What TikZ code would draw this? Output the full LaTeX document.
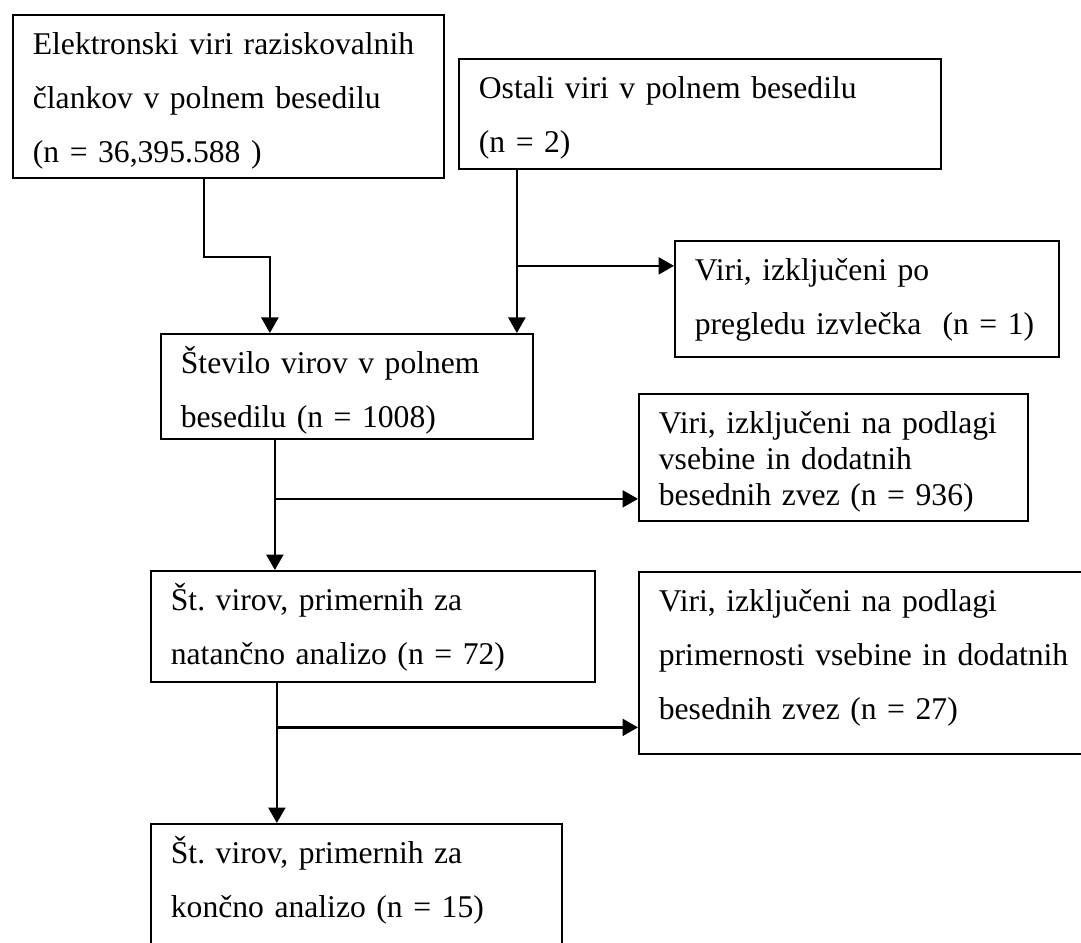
\documentclass[tikz,border=0pt]{standalone}
\usepackage{fontspec}
\setmainfont{Liberation Serif}
\usetikzlibrary{arrows.meta}

\begin{document}
\begin{tikzpicture}[
        >=Stealth,
        flow_box/.style={
            rectangle,
            draw=black,
            line width=1pt,
            anchor=north west,
            inner xsep=0.4cm,
            inner ysep=0pt,
            text height=0.8cm,
            align=left,
            font=\frenchspacing\fontsize{18}{30.7}\selectfont
        },
        tight_box/.style={
            flow_box,
            font=\frenchspacing\fontsize{18}{20.5}\selectfont
        },
        flow_arrow/.style={-{Triangle[width=0.34cm,length=0.31cm]}, line width=1.4pt, black}
    ]

    % Page frame (right and bottom boxes run off the page)
    \useasboundingbox (0,0) rectangle (21.62,-18.86);
    \clip (0,0) rectangle (21.62,-18.86);

    % =================================================
    % SOURCES
    % =================================================
    \node[flow_box, text width=7.82cm, text depth=2.46cm] (boxA) at (0.24,-0.28)
        {Elektronski viri raziskovalnih\\ člankov v polnem besedilu\\ (n = 36,395.588 )};
    \node[flow_box, text width=8.84cm, text depth=1.40cm] (boxB) at (9.16,-1.16)
        {Ostali viri v polnem besedilu\\ (n = 2)};

    % =================================================
    % SCREENING STEPS
    % =================================================
    \node[flow_box, text width=6.64cm, text depth=1.30cm] (boxC) at (3.20,-6.66)
        {Število virov v polnem\\ besedilu (n = 1008)};
    \node[flow_box, text width=8.08cm, text depth=1.42cm] (boxF) at (3.00,-11.40)
        {Št. virov, primernih za\\ natančno analizo (n = 72)};
    \node[flow_box, text width=7.42cm, text depth=4.00cm] (boxH) at (3.00,-16.46)
        {Št. virov, primernih za\\ končno analizo (n = 15)};

    % Excluded sources
    \node[flow_box, text width=6.88cm, text depth=1.52cm] (boxD) at (13.48,-4.80)
        {Viri, izključeni po\\ pregledu izvlečka~ (n = 1)};
    \node[tight_box, text width=6.98cm, text depth=1.74cm] (boxE) at (12.76,-7.86)
        {Viri, izključeni na podlagi\\ vsebine in dodatnih\\ besednih zvez (n = 936)};
    \node[flow_box, text width=8.44cm, text depth=2.84cm] (boxG) at (12.76,-11.42)
        {Viri, izključeni na podlagi\\ primernosti vsebine in dodatnih\\ besednih zvez (n = 27)};

    % =================================================
    % CONNECTORS
    % =================================================
    \coordinate (outA) at ([xshift=-0.49cm]boxA.south);
    \coordinate (inCa) at ([xshift=-1.54cm]boxC.north);
    \draw[flow_arrow] (outA) -- ++(0,-1.56) -| (inCa);

    \coordinate (outB) at ([xshift=-3.66cm]boxB.south);
    \coordinate (inD) at ([yshift=0.66cm]boxD.west);
    \draw[flow_arrow] (outB) -- (outB |- boxC.north);
    \draw[flow_arrow] (outB |- inD) -- (inD);

    \coordinate (outC) at ([xshift=-1.44cm]boxC.south);
    \coordinate (inE) at ([yshift=-0.83cm]boxE.west);
    \draw[flow_arrow] (outC) -- (outC |- boxF.north);
    \draw[flow_arrow] (outC |- inE) -- (inE);

    \coordinate (outF) at ([xshift=-1.92cm]boxF.south);
    \coordinate (inG) at ([yshift=-1.29cm]boxG.west);
    \draw[flow_arrow] (outF) -- (outF |- boxH.north);
    \draw[flow_arrow] (outF |- inG) -- (inG);

\end{tikzpicture}
\end{document}
